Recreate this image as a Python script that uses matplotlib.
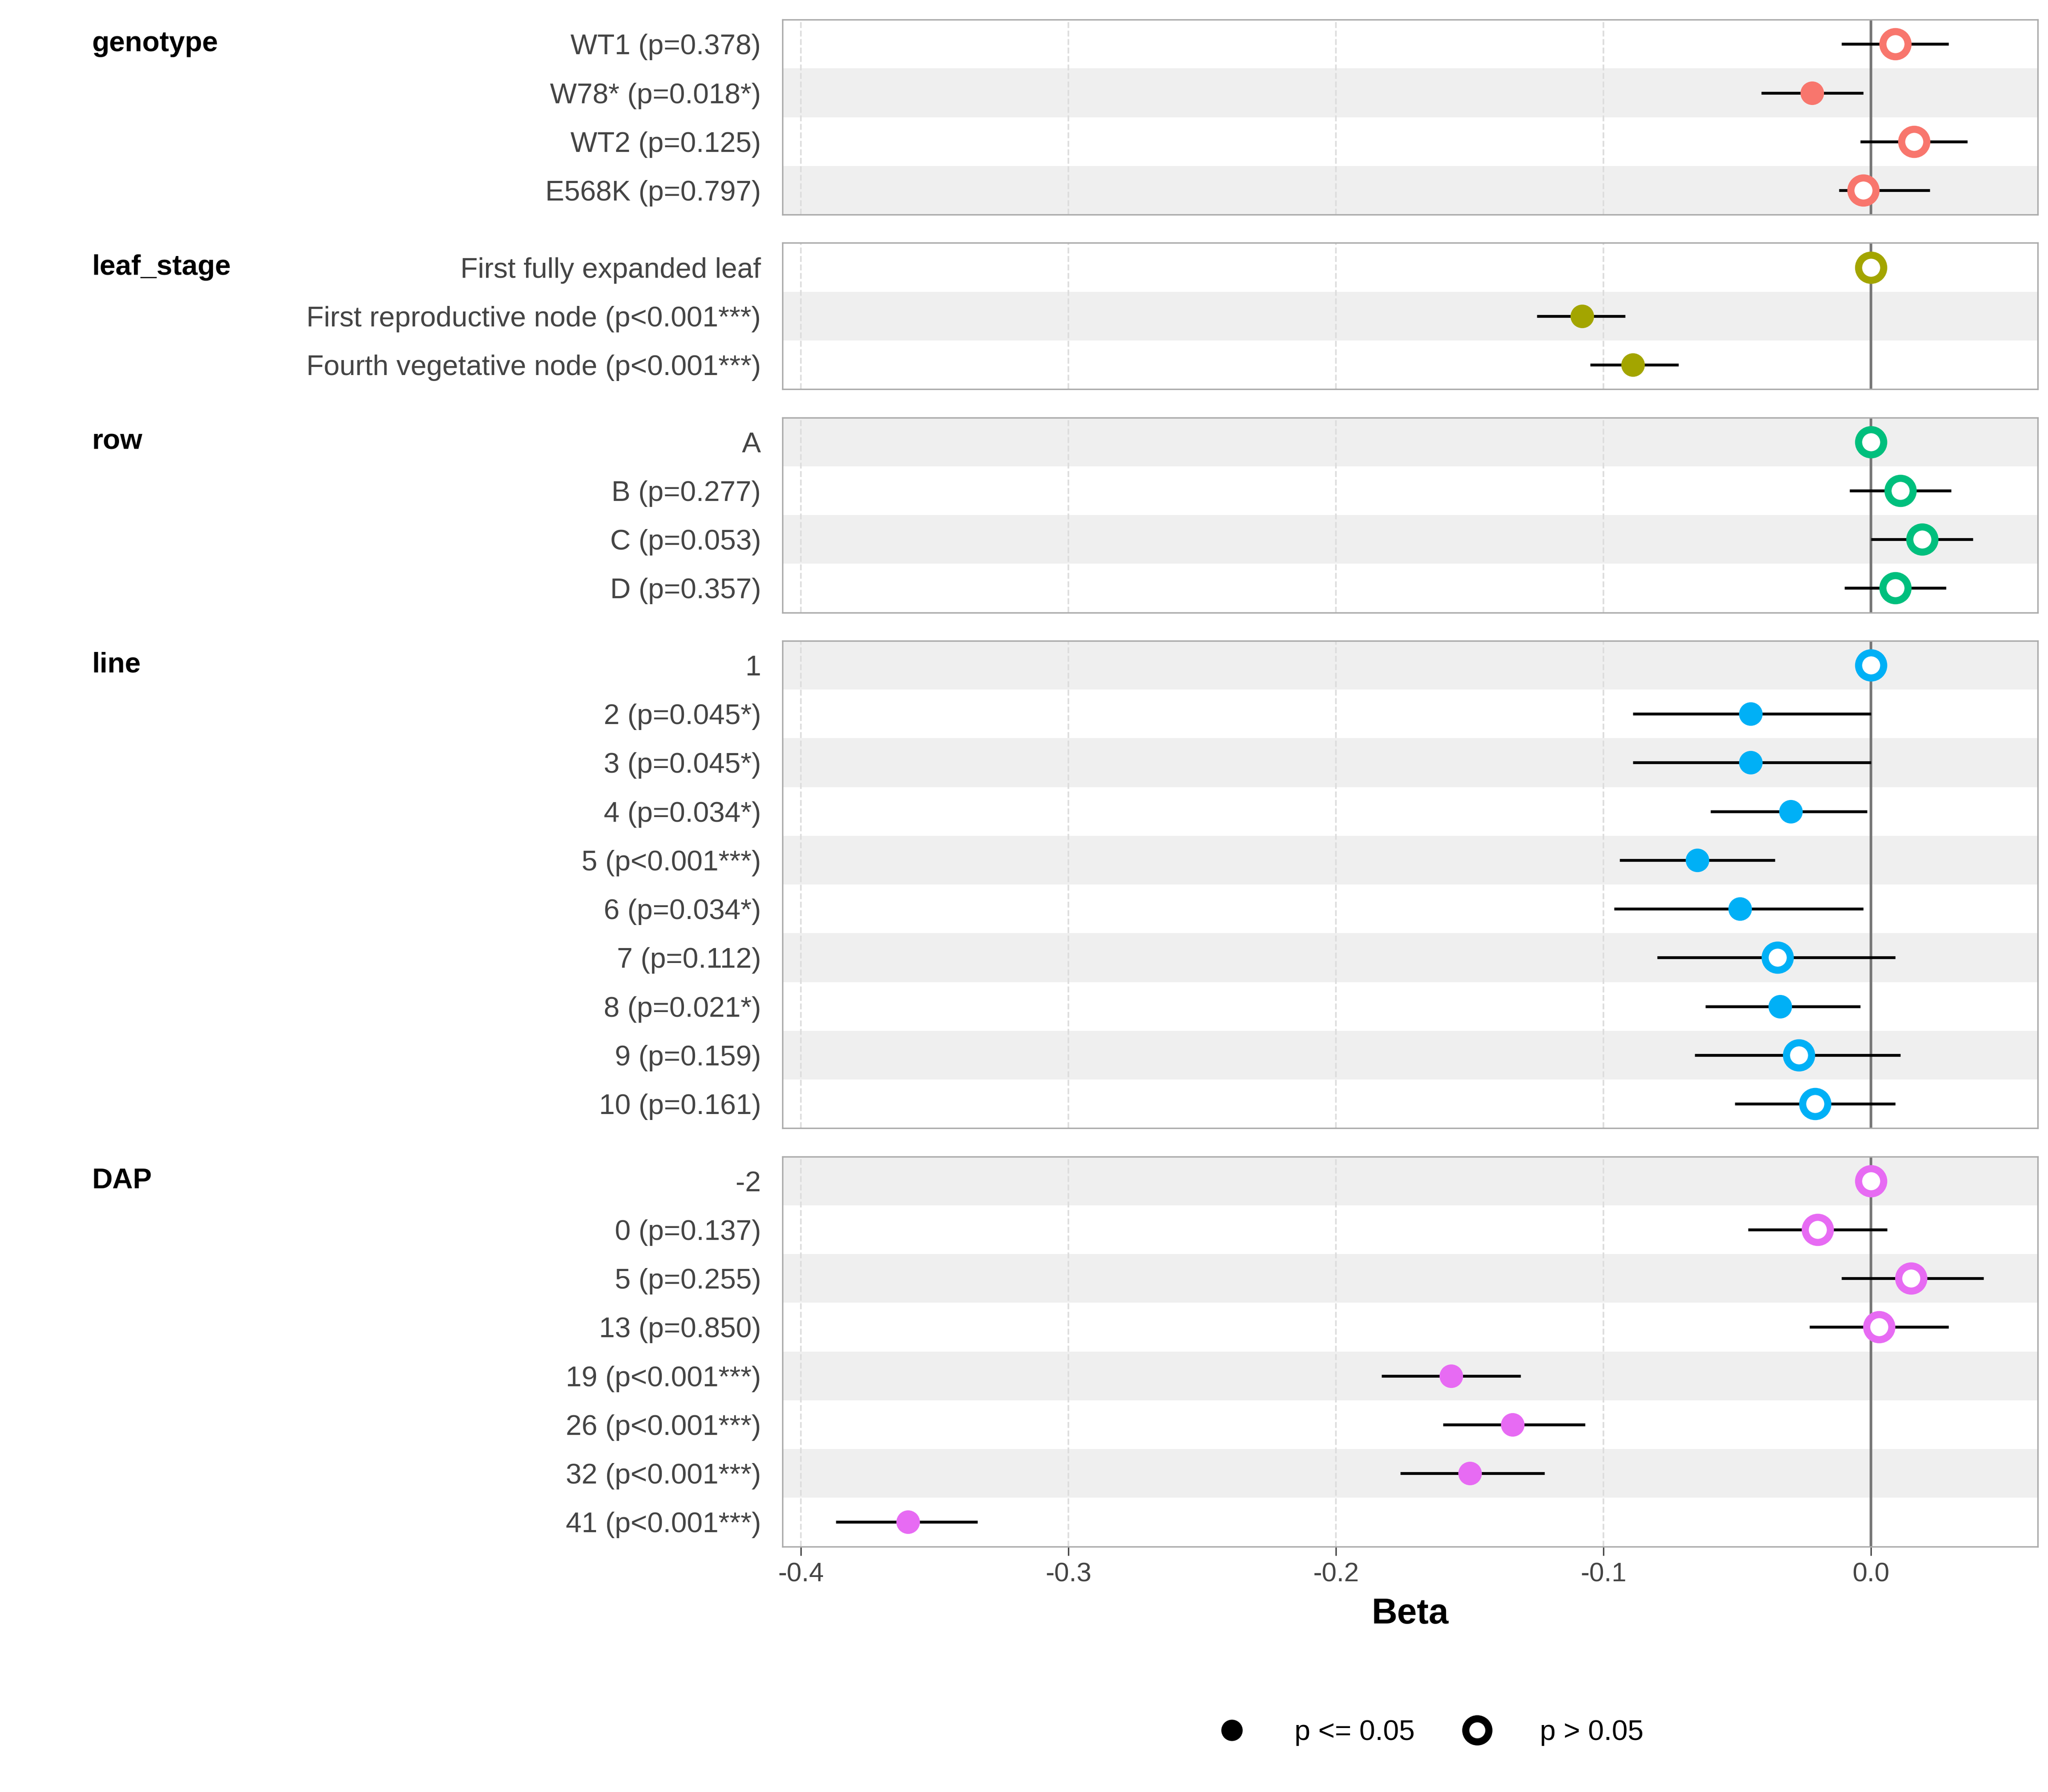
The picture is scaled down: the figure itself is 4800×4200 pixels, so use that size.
import matplotlib
matplotlib.use('Agg')
import matplotlib.pyplot as plt
from matplotlib.lines import Line2D
import numpy as np

plt.rcParams['font.family'] = ['Liberation Sans', 'DejaVu Sans']

groups = ['genotype', 'leaf_stage', 'row', 'line', 'DAP']
colors = ['#F8766D', '#A3A500', '#00BF7D', '#00B0F6', '#E76BF3']

labels = {
    'genotype': ['WT1 (p=0.378)', 'W78* (p=0.018*)', 'WT2 (p=0.125)', 'E568K (p=0.797)'],
    'leaf_stage': ['First fully expanded leaf', 'First reproductive node (p<0.001***)',
                   'Fourth vegetative node (p<0.001***)'],
    'row': ['A', 'B (p=0.277)', 'C (p=0.053)', 'D (p=0.357)'],
    'line': ['1', '2 (p=0.045*)', '3 (p=0.045*)', '4 (p=0.034*)', '5 (p<0.001***)',
             '6 (p=0.034*)', '7 (p=0.112)', '8 (p=0.021*)', '9 (p=0.159)', '10 (p=0.161)'],
    'DAP': ['-2', '0 (p=0.137)', '5 (p=0.255)', '13 (p=0.850)', '19 (p<0.001***)',
            '26 (p<0.001***)', '32 (p<0.001***)', '41 (p<0.001***)'],
}
beta = {
    'genotype': [0.009, -0.022, 0.016, -0.003],
    'leaf_stage': [0.0, -0.108, -0.089],
    'row': [0.0, 0.011, 0.019, 0.009],
    'line': [0.0, -0.045, -0.045, -0.030, -0.065, -0.049, -0.035, -0.034, -0.027, -0.021],
    'DAP': [0.0, -0.020, 0.015, 0.003, -0.157, -0.134, -0.150, -0.360],
}
lo = {
    'genotype': [-0.011, -0.041, -0.004, -0.012],
    'leaf_stage': [0.0, -0.125, -0.105],
    'row': [0.0, -0.008, 0.0, -0.010],
    'line': [0.0, -0.089, -0.089, -0.060, -0.094, -0.096, -0.080, -0.062, -0.066, -0.051],
    'DAP': [0.0, -0.046, -0.011, -0.023, -0.183, -0.160, -0.176, -0.387],
}
hi = {
    'genotype': [0.029, -0.003, 0.036, 0.022],
    'leaf_stage': [0.0, -0.092, -0.072],
    'row': [0.0, 0.030, 0.038, 0.028],
    'line': [0.0, 0.0, 0.0, -0.0015, -0.036, -0.003, 0.009, -0.004, 0.011, 0.009],
    'DAP': [0.0, 0.006, 0.042, 0.029, -0.131, -0.107, -0.122, -0.334],
}
signif = {
    'genotype': [False, True, False, False],
    'leaf_stage': [False, True, True],
    'row': [False, False, False, False],
    'line': [False, True, True, True, True, True, False, True, False, False],
    'DAP': [False, False, False, False, True, True, True, True],
}
# first gray stripe row index (0 or 1) per panel
stripe_start = {'genotype': 1, 'leaf_stage': 1, 'row': 0, 'line': 0, 'DAP': 0}

fig = plt.figure(figsize=(16, 14), dpi=300)
fig.patch.set_facecolor('white')
gs = fig.add_gridspec(len(groups), 1, height_ratios=[len(labels[g]) for g in groups],
                      left=0.382, right=0.995, top=0.989, bottom=0.137, hspace=0.1)

for i, g in enumerate(groups):
    ax = fig.add_subplot(gs[i])
    n = len(labels[g])
    y = np.arange(n)
    for k in range(stripe_start[g], n, 2):
        ax.axhspan(k - 0.5, k + 0.5, color='#EFEFEF', lw=0, zorder=0)
    for xv in [-0.4, -0.3, -0.2, -0.1]:
        ax.axvline(xv, color='#DDDDDD', lw=0.9, ls='--', zorder=1)
    ax.axvline(0, color='#777777', lw=1.5, zorder=2)
    b = np.array(beta[g]); s = np.array(signif[g])
    ax.hlines(y, lo[g], hi[g], color='black', lw=1.6, zorder=3)
    ax.scatter(b[s], y[s], s=150, color=colors[i], zorder=4)
    ax.scatter(b[~s], y[~s], s=200, facecolor='white', edgecolor=colors[i], linewidths=4, zorder=4)
    ax.set_ylim(n - 0.5, -0.5)
    ax.set_xlim(-0.407, 0.0623)
    ax.set_yticks(y)
    ax.set_yticklabels(labels[g], fontsize=16, color='#444444')
    ax.tick_params(axis='y', length=0, pad=12)
    for sp in ax.spines.values():
        sp.set_edgecolor('#AAAAAA')
    ax.text(-0.55, 0, g, transform=ax.get_yaxis_transform(), fontsize=16, fontweight='bold',
            va='center', ha='left')
    ax.set_xticks([-0.4, -0.3, -0.2, -0.1, 0.0])
    if i < len(groups) - 1:
        ax.tick_params(axis='x', length=0, labelbottom=False)
    else:
        ax.tick_params(axis='x', labelsize=15, colors='#444444', length=5)
        ax.set_xticklabels(['-0.4', '-0.3', '-0.2', '-0.1', '0.0'])
        ax.set_xlabel('Beta', fontsize=20, fontweight='bold', labelpad=6)

handles = [
    Line2D([0], [0], marker='o', ls='none', markersize=11, color='black', label='p <= 0.05'),
    Line2D([0], [0], marker='o', ls='none', markersize=13, markerfacecolor='white',
           markeredgecolor='black', markeredgewidth=4, label='p > 0.05'),
]
fig.legend(handles=handles, loc='center', bbox_to_anchor=(0.695, 0.033), ncol=2, frameon=False,
           fontsize=16, handletextpad=1.2, columnspacing=1.2)

fig.savefig('out.png', dpi=300, facecolor='white')
